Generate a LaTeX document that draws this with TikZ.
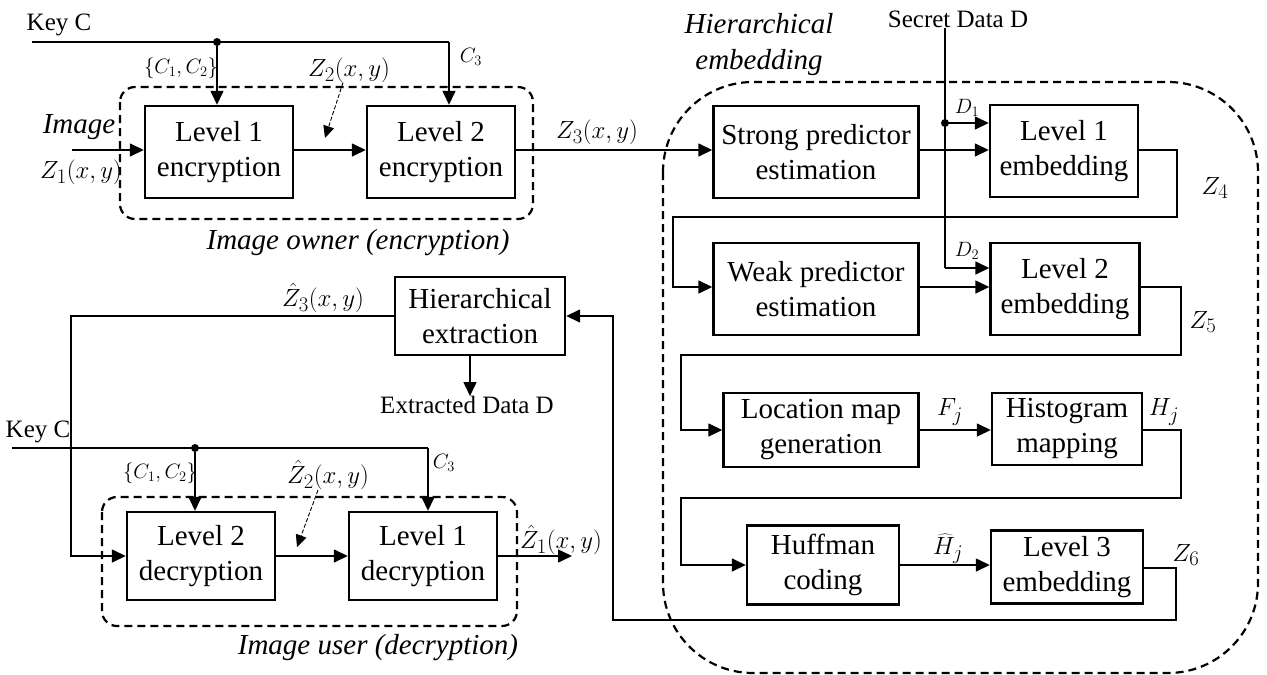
\documentclass[tikz,border=0pt]{standalone}
\usepackage{fontspec}
\setmainfont{Liberation Serif}
\usetikzlibrary{arrows.meta}

\begin{document}
\begin{tikzpicture}[x=1pt,y=-1pt]

\tikzset{blk/.style={draw, line width=2.4pt, align=center, inner sep=0pt, font=\fontsize{29}{35}\selectfont},
wire/.style={line width=1.5pt},
arr/.style={wire, -{Triangle[length=14pt,width=13pt]}},
ptr/.style={line width=0.9pt, dash pattern=on 4pt off 2pt, -{Triangle[length=12pt,width=11pt]}},
grp/.style={line width=2.2pt, dash pattern=on 8pt off 5pt},
lbl/.style={font=\fontsize{24.88}{27}\selectfont, inner sep=0pt},
sml/.style={font=\fontsize{20.74}{23}\selectfont, inner sep=0pt},
txt/.style={font=\fontsize{25}{27}\selectfont, inner sep=0pt},
grpname/.style={font=\fontsize{29}{36}\selectfont\itshape, inner sep=0pt, align=center},
jn/.style={circle, fill, inner sep=0pt, minimum size=8pt}}

\useasboundingbox (0,0) rectangle (1267,675);

% dashed groups
\draw[grp, rounded corners=15pt] (120,87) rectangle (533,219);
\draw[grp, rounded corners=15pt] (102,497) rectangle (517,626);
\draw[grp, rounded corners=90pt] (663,82) rectangle (1258,673);

\node[grpname] at (358,243) {Image owner (encryption)};
\node[grpname] at (378,648) {Image user (decryption)};
\node[grpname] at (759,45) {Hierarchical\\embedding};

% encryption
\node[blk, minimum width=148pt, minimum height=92pt] (enc1) at (219,152) {Level 1\\encryption};
\node[blk, minimum width=148pt, minimum height=92pt] (enc2) at (441,152) {Level 2\\encryption};

\node[txt] (keyAt) at (59,25) {Key C};
\coordinate (keyA) at (32,42);
\coordinate (c3A) at (449,42);
\node[jn] (jA) at (217,42) {};
\draw[wire] (keyA) -- (c3A);
\draw[arr] (jA) -- (jA |- enc1.north);
\draw[arr] (c3A) -- (c3A |- enc2.north);
\node[sml] at (181,68) {$\{C_1,C_2\}$};
\node[sml] at (471,57) {$C_3$};

\coordinate (imgin) at (72,150);
\draw[arr] (imgin) -- (imgin -| enc1.west);
\node[grpname] at (79,127) {Image};
\node[lbl] at (81,172) {$Z_1(x,y)$};

\draw[arr] (enc1.east |- imgin) -- (imgin -| enc2.west);
\node[lbl] (z2lbl) at (349,70) {$Z_2(x,y)$};
\coordinate (z2tip) at (325,138);
\draw[ptr] ([xshift=-6pt]z2lbl.south) -- (z2tip);

% embedding
\node[blk, minimum width=205pt, minimum height=92pt] (strong) at (816,152) {Strong predictor\\estimation};
\node[blk, minimum width=148pt, minimum height=92pt] (emb1) at (1064,151) {Level 1\\embedding};
\node[blk, minimum width=205pt, minimum height=92pt] (weak) at (816,289) {Weak predictor\\estimation};
\node[blk, minimum width=149pt, minimum height=92pt] (emb2) at (1065,289) {Level 2\\embedding};
\node[blk, minimum width=195pt, minimum height=74pt] (locmap) at (821,430) {Location map\\generation};
\node[blk, minimum width=150pt, minimum height=72pt] (histo) at (1067,429) {Histogram\\mapping};
\node[blk, minimum width=152pt, minimum height=79pt] (huff) at (823,565) {Huffman\\coding};
\node[blk, minimum width=152pt, minimum height=73pt] (emb3) at (1067,567) {Level 3\\embedding};

\draw[arr] (enc2.east |- imgin) -- (imgin -| strong.west);
\node[lbl] at (597,132) {$Z_3(x,y)$};
\draw[arr] (strong.east |- imgin) -- (imgin -| emb1.west);

\node[txt] (secret) at (958,19) {Secret Data D};
\coordinate (sd1) at (945,123);
\coordinate (sd2) at (945,268);
\draw[wire] (secret.south -| sd1) -- (sd2);
\node[jn] at (sd1) {};
\draw[arr] (sd1) -- (sd1 -| emb1.west);
\draw[arr] (sd2) -- (sd2 -| emb2.west);
\node[sml] at (967,108) {$D_1$};
\node[sml] at (967,251) {$D_2$};

\draw[arr] (emb1.east |- imgin) -- (1177,150) -- (1177,217) -- (673,217) -- (673,287) -- (673,287 -| weak.west);
\node[lbl] at (1215,188) {$Z_4$};
\draw[arr] (weak.east |- 0,287) -- (emb2.west |- 0,287);
\draw[arr] (emb2.east |- 0,287) -- (1181,287) -- (1181,355) -- (681,355) |- (locmap.west);
\node[lbl] at (1203,322) {$Z_5$};
\draw[arr] (locmap) -- (locmap -| histo.west);
\node[lbl] at (950,412) {$F_j$};
\draw[arr] (histo.east |- locmap) -- (1181,430) -- (1181,498) -- (681,498) |- (huff.west);
\node[lbl] at (1164,412) {$H_j$};
\draw[arr] (huff) -- (huff -| emb3.west);
\node[lbl] at (948,549) {$\widehat{H}_j$};
\node[lbl] at (1186,555) {$Z_6$};

% extraction and decryption
\node[blk, minimum width=170pt, minimum height=78pt] (hext) at (480,316) {Hierarchical\\extraction};
\node[txt] (extr) at (467,405) {Extracted Data D};
\draw[arr] (emb3.east |- 0,568) -- (1176,568) -- (1176,620) -- (613,620) |- (hext.east);
\draw[arr] (470,0 |- hext.south) -- (470,0 |- extr.north);

\node[blk, minimum width=148pt, minimum height=88pt] (dec2) at (201,556) {Level 2\\decryption};
\node[blk, minimum width=148pt, minimum height=88pt] (dec1) at (423,556) {Level 1\\decryption};

\draw[arr] (hext.west) -- (71,316) |- (dec2.west);
\node[lbl] at (323,298) {$\hat{Z}_3(x,y)$};

\node[txt] (keyBt) at (38,432) {Key C};
\coordinate (keyB) at (12,448);
\coordinate (c3B) at (428,448);
\node[jn] (jB) at (195,448) {};
\draw[wire] (keyB) -- (c3B);
\draw[arr] (jB) -- (jB |- dec2.north);
\draw[arr] (c3B) -- (c3B |- dec1.north);
\node[sml] at (160,473) {$\{C_1,C_2\}$};
\node[sml] at (444,463) {$C_3$};

\draw[arr] (dec2) -- (dec1);
\node[lbl] (z2hat) at (328,475) {$\hat{Z}_2(x,y)$};
\coordinate (z2htip) at (297,547);
\draw[ptr] ([xshift=-10pt]z2hat.south) -- (z2htip);

\coordinate (zout) at (572,556);
\draw[arr] (dec1) -- (zout);
\node[lbl] at (561,540) {$\hat{Z}_1(x,y)$};

\end{tikzpicture}
\end{document}
